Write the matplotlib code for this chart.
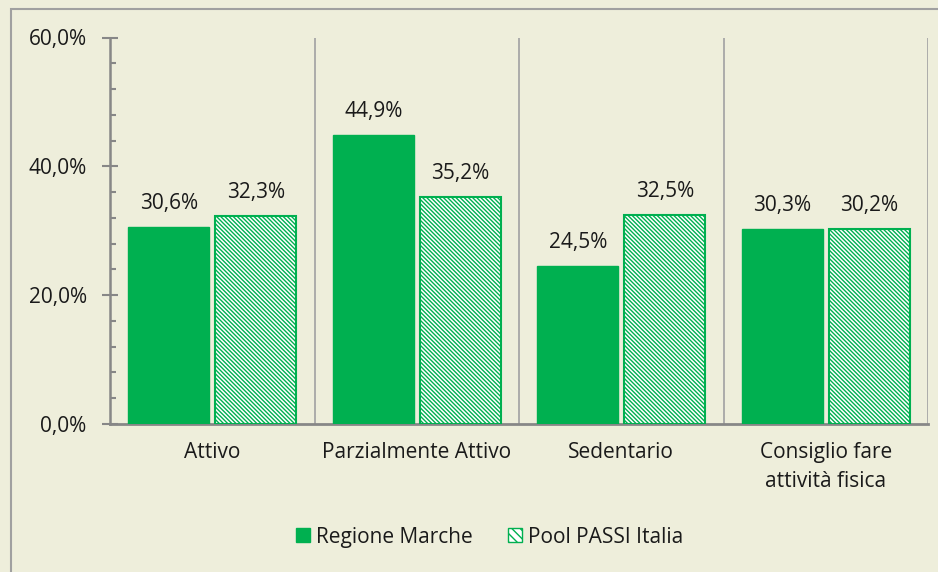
import matplotlib
matplotlib.use("Agg")
import matplotlib.pyplot as plt
import numpy as np
from matplotlib.patches import Rectangle, Patch
from matplotlib.ticker import MultipleLocator, FuncFormatter

categories = ["Attivo", "Parzialmente Attivo", "Sedentario", "Consiglio fare\nattività fisica"]
marche = [30.6, 44.9, 24.5, 30.3]
italia = [32.3, 35.2, 32.5, 30.2]
series_names = ["Regione Marche", "Pool PASSI Italia"]

green = "#00B050"
bg = "#EEEEDB"
gray = "#878787"

plt.rcParams["font.family"] = ["Open Sans", "DejaVu Sans"]
plt.rcParams["hatch.linewidth"] = 1.0

fig = plt.figure(figsize=(9.38, 5.72), dpi=100, facecolor=bg)
ax = fig.add_axes([110 / 938, 148 / 572, 818 / 938, 386.5 / 572])
ax.set_facecolor(bg)

# outer frame of the chart area
fig.patches.append(Rectangle((11 / 938, -0.05), 1.1, 1 - 9 / 572 + 0.05,
                             transform=fig.transFigure, fill=False,
                             edgecolor="#A0A0A0", lw=1.5))

x = np.arange(len(categories)) + 0.5
w = 0.395
off = 0.213
hatch = "\\" * 8

b1 = ax.bar(x - off, marche, w, color=green, edgecolor=green, lw=1, zorder=3)
b2 = ax.bar(x + off, italia, w, color="white", edgecolor=green, hatch=hatch,
            lw=1.5, zorder=3)

for bars, vals in ((b1, marche), (b2, italia)):
    for b, v in zip(bars, vals):
        ax.annotate(f"{v:.1f}%".replace(".", ","), (b.get_x() + b.get_width() / 2, v),
                    xytext=(0, 13), textcoords="offset points",
                    ha="center", va="baseline", fontsize=15, color="#1a1a1a")

for xv in range(1, len(categories) + 1):
    ax.axvline(xv, color="#A6A6A6", lw=1.3, zorder=1)

ax.set_xlim(0, len(categories))
ax.set_ylim(0, 60)
ax.set_xticks(x)
ax.set_xticklabels(categories, fontsize=15, color="#1a1a1a", linespacing=1.5)
ax.tick_params(axis="x", length=0, pad=13)

ax.yaxis.set_major_locator(MultipleLocator(20))
ax.yaxis.set_minor_locator(MultipleLocator(4))
ax.yaxis.set_major_formatter(FuncFormatter(lambda v, p: f"{v:.1f}%".replace(".", ",")))
ax.tick_params(axis="y", which="major", direction="inout", length=11.5, width=1.5,
               color=gray, labelsize=15, labelcolor="#1a1a1a", pad=11)
ax.tick_params(axis="y", which="minor", direction="in", length=4.5, width=1.5, color=gray)

for s in ("top", "right"):
    ax.spines[s].set_visible(False)
ax.spines["left"].set_color(gray)
ax.spines["left"].set_linewidth(1.8)
ax.spines["bottom"].set_color(gray)
ax.spines["bottom"].set_linewidth(2)

handles = [Patch(facecolor=green, edgecolor=green),
           Patch(facecolor="white", edgecolor=green, hatch="\\\\\\\\")]
fig.legend(handles, series_names, loc="center", bbox_to_anchor=(0.522, 0.061),
           ncol=2, frameon=False, fontsize=15, handlelength=0.65, handleheight=0.65,
           handletextpad=0.3, columnspacing=1.7, labelcolor="#1a1a1a")

fig.savefig("out.png", dpi=100, facecolor=bg)
